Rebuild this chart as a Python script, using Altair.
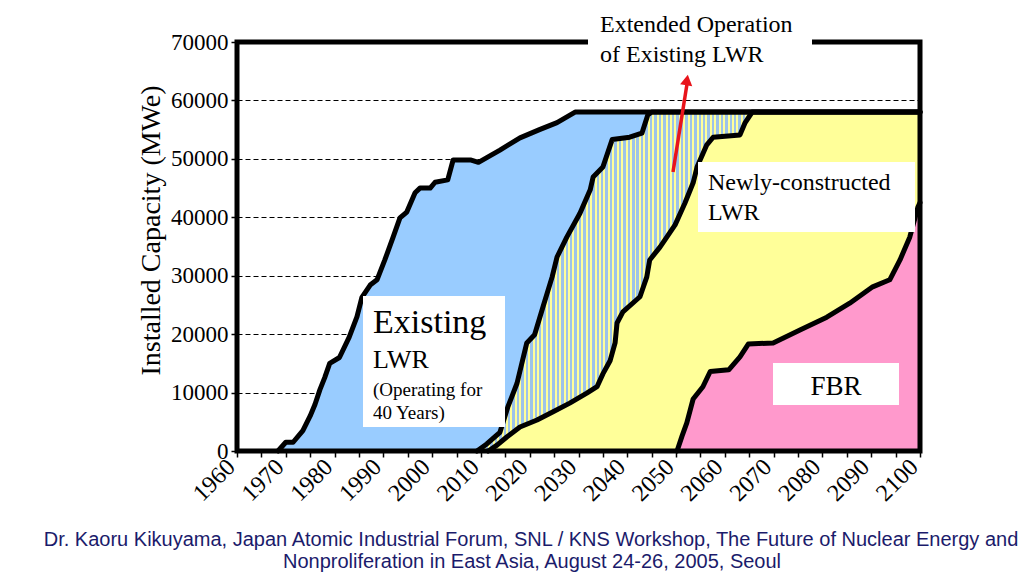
import altair as alt
import pandas as pd

# ---- data: cumulative boundaries (MWe) ----
total_year = [1968.4, 1970, 1971.5, 1973.5, 1975, 1976, 1977, 1978, 1979, 1981, 1983, 1984.6, 1985.6,
              1987.3, 1988.7, 1990.3, 1992, 1993.4, 1994.8, 1996.5, 1997.5, 1999.6, 2000.6, 2003.2,
              2004.3, 2008, 2009.5, 2011.2, 2013.9, 2018, 2022, 2025.6, 2029.3, 2100]
total_mw = [0, 1500, 1500, 3500, 6000, 8000, 10500, 12600, 15000, 16000, 19500, 23000, 26300,
            28400, 29300, 32700, 36600, 39900, 40900, 44200, 45000, 45000, 46000, 46400,
            49800, 49800, 49400, 50200, 51500, 53600, 55000, 56200, 58000, 58000]

ext_year = [2009.2, 2011.2, 2013.9, 2015.5, 2017.4, 2019.4, 2021, 2022.7, 2024.6, 2025.6, 2027.6,
            2030.3, 2032.4, 2033, 2035, 2036.9, 2040.5, 2043, 2044.2, 2045, 2100]
ext_mw = [0, 1200, 3200, 7500, 11600, 18500, 19900, 24600, 29800, 33200, 36600,
          40700, 44700, 46900, 48600, 53300, 53700, 54400, 57500, 58000, 58000]

new_year = [2011.5, 2013.3, 2015.3, 2018, 2021.5, 2024.8, 2028.2, 2031.7, 2033.8, 2035, 2036.5,
            2037.5, 2037.9, 2039.1, 2042.6, 2044, 2044.6, 2046.7, 2048.1, 2049.8, 2051.8, 2053.5,
            2054.3, 2056.3, 2057.6, 2063.1, 2064.1, 2065.6, 2100]
new_mw = [0, 1000, 2400, 4100, 5300, 6700, 8200, 9900, 11000, 13200, 15500,
          18500, 21900, 23800, 26400, 29800, 32700, 34900, 36600, 38700, 42400, 45900,
          48600, 52400, 53700, 54100, 56100, 58000, 58000]

fbr_year = [2050.2, 2051.2, 2052.2, 2053.5, 2055.5, 2057, 2060.8, 2063.1, 2064.8, 2069.9, 2075.4,
            2080.9, 2085.6, 2090.3, 2093.8, 2095.9, 2097.9, 2099.6, 2100]
fbr_mw = [0, 2500, 4800, 8900, 11000, 13600, 13900, 16100, 18300, 18500, 20700,
          22900, 25300, 28100, 29300, 32700, 36600, 41800, 42500]

x_ticks = list(range(1960, 2101, 5))
y_ticks = list(range(0, 70001, 10000))

BLUE = "#99CCFF"
STRIPE_BLUE = "#9CC3EA"
YELLOW = "#FFFF99"
PINK = "#FF99CC"
SERIF = "Liberation Serif"


def frame(years, vals):
    return pd.DataFrame({"year": years, "mw": vals})


x_axis = alt.Axis(values=x_ticks, labelExpr="datum.value % 10 == 0 ? datum.value + '' : ''",
                  labelAngle=-45, labelAlign="right", labelBaseline="middle",
                  labelFont=SERIF, labelFontSize=24, labelColor="black", labelPadding=6,
                  labelOffset=-6, labelOverlap=False, labelBound=False, labelFlush=False,
                  tickSize=6, tickColor="black", tickWidth=1.5, domain=False, grid=False, title=None)
y_axis = alt.Axis(values=y_ticks, format="d", labelFont=SERIF, labelFontSize=23, labelColor="black",
                  labelPadding=3, tickSize=6, tickColor="black", tickWidth=1.5, domain=False,
                  grid=True, gridColor="black", gridDash=[5, 3], gridWidth=1, gridOpacity=1,
                  title="Installed Capacity (MWe)", titleFont=SERIF, titleFontSize=28,
                  titleFontWeight="normal", titleColor="black", titlePadding=5, titleY=188)

X = alt.X("year:Q", scale=alt.Scale(domain=[1960, 2100], nice=False, zero=False), axis=x_axis)
Y = alt.Y("mw:Q", scale=alt.Scale(domain=[0, 70000], nice=False), axis=y_axis)

# stripe gradient for the extended-operation band
n_stripes = 100
stops = []
for i in range(n_stripes):
    a = i / n_stripes
    b = (i + 0.55) / n_stripes
    c = (i + 1) / n_stripes
    stops += [alt.GradientStop(color=STRIPE_BLUE, offset=a), alt.GradientStop(color=STRIPE_BLUE, offset=b),
              alt.GradientStop(color=YELLOW, offset=b), alt.GradientStop(color=YELLOW, offset=c)]
stripes = alt.Gradient(gradient="linear", stops=stops, x1=0, x2=1, y1=0, y2=0)

layers = []
for yrs, vals, col in [(total_year, total_mw, BLUE), (ext_year, ext_mw, stripes),
                       (new_year, new_mw, YELLOW), (fbr_year, fbr_mw, PINK)]:
    layers.append(alt.Chart(frame(yrs, vals)).mark_area(color=col, opacity=1).encode(x=X, y=Y))
for yrs, vals in [(total_year, total_mw), (ext_year, ext_mw), (new_year, new_mw), (fbr_year, fbr_mw)]:
    layers.append(alt.Chart(frame(yrs, vals)).mark_line(color="black", strokeWidth=5, strokeJoin="round",
                                                        strokeCap="round").encode(x=X, y=Y))

one = pd.DataFrame({"d": [0]})
W, H = 683, 409


def box(x1, y1, x2, y2):
    return alt.Chart(one).mark_rect(color="white", opacity=1).encode(
        x=alt.value(x1), x2=alt.value(x2), y=alt.value(y1), y2=alt.value(y2))


def txt(s, x, y, size, align="left", font=SERIF, color="black", baseline="alphabetic"):
    return alt.Chart(one).mark_text(text=s, font=font, fontSize=size, align=align, baseline=baseline,
                                    color=color).encode(x=alt.value(x), y=alt.value(y))


# plot border
layers.append(alt.Chart(one).mark_rect(fillOpacity=0, stroke="black", strokeWidth=5).encode(
    x=alt.value(0), x2=alt.value(W), y=alt.value(0), y2=alt.value(H)))

# annotation boxes and labels
layers += [
    box(126, 254, 268, 385),
    txt("Existing", 136, 291, 34),
    txt("LWR", 136, 326, 26),
    txt("(Operating for", 136, 354, 19),
    txt("40 Years)", 136, 377, 19),
    box(461, 120, 678, 190),
    txt("Newly-constructed", 471, 148, 24),
    txt("LWR", 471, 178, 24),
    box(536, 321, 662, 363),
    txt("FBR", 599, 353, 27, align="center"),
    box(351, -42, 575, 28),
    txt("Extended Operation", 363, -10, 24),
    txt("of Existing LWR", 363, 20, 24),
]

# red arrow
RED = "#E8141B"
layers.append(alt.Chart(one).mark_rule(color=RED, strokeWidth=3.5).encode(
    x=alt.value(436), y=alt.value(130), x2=alt.value(450), y2=alt.value(42)))
layers.append(alt.Chart(one).mark_point(shape="triangle-up", filled=True, size=150, angle=9,
                                        color=RED, opacity=1).encode(x=alt.value(450), y=alt.value(38)))

# footer
NAVY = "#1B1B6B"
layers.append(txt("Dr. Kaoru Kikuyama, Japan Atomic Industrial Forum, SNL / KNS Workshop, The Future of Nuclear Energy and",
                  294, 498, 20, align="center", font="Liberation Sans", color=NAVY, baseline="middle"))
layers.append(txt("Nonproliferation in East Asia, August 24-26, 2005, Seoul",
                  295, 520, 20, align="center", font="Liberation Sans", color=NAVY, baseline="middle"))

chart = alt.layer(*layers).properties(
    width=W, height=H,
    autosize=alt.AutoSizeParams(type="none"),
    padding={"left": 237, "top": 42, "right": 114, "bottom": 125},
    background="white",
).configure_view(stroke=None)

chart.save("out.html", embed_options={"renderer": "svg", "actions": False})
